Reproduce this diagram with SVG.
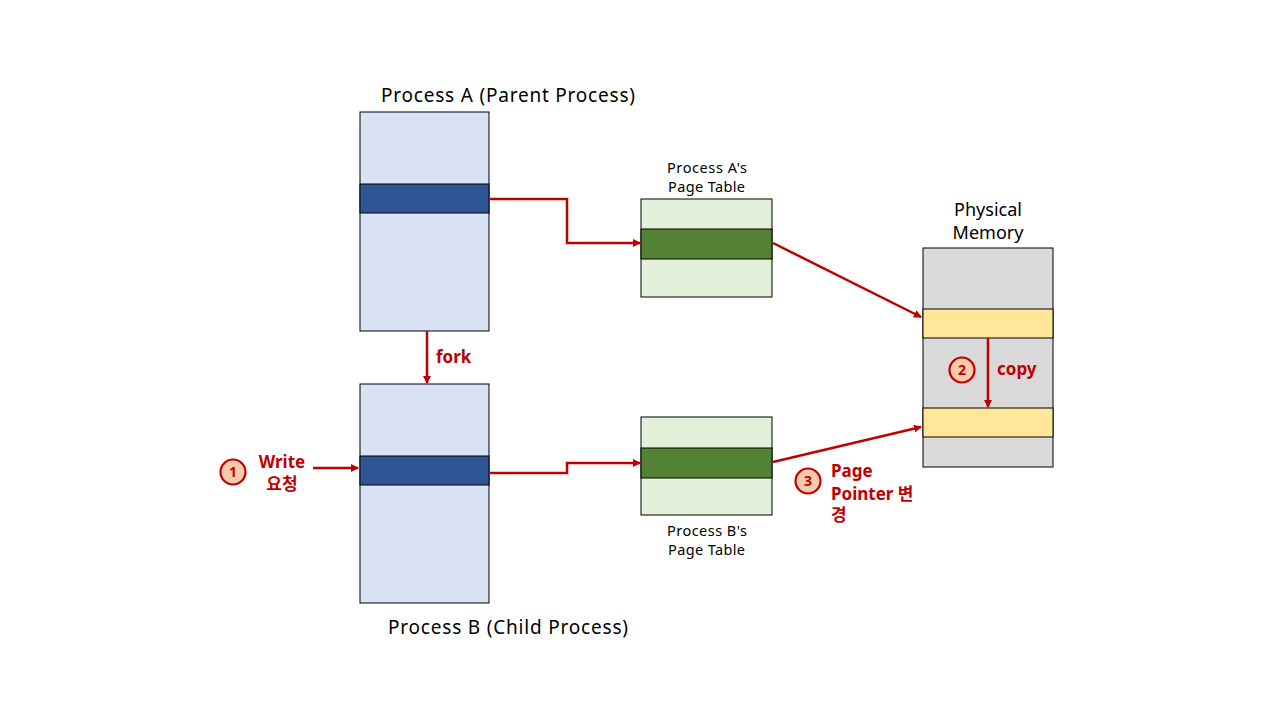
<svg xmlns="http://www.w3.org/2000/svg" width="1280" height="720" viewBox="0 0 1280 720">
<defs>
<style>
.box{stroke:#000;stroke-width:1}
.t{font-family:"Noto Sans","Noto Sans CJK KR",sans-serif;fill:#000}
.r{font-family:"Noto Sans","Noto Sans CJK KR",sans-serif;fill:#C00000;font-weight:bold;font-size:17px}
.c{fill:#F8CBAD;stroke:#C00000;stroke-width:2.2}
.cn{font-family:"Noto Sans",sans-serif;fill:#C00000;font-size:14px;font-weight:bold;text-anchor:middle}
.ar{fill:none;stroke:#C00000;stroke-width:2.5;marker-end:url(#ah)}
</style>
<marker id="ah" markerWidth="8" markerHeight="8" refX="7" refY="4" orient="auto" markerUnits="userSpaceOnUse">
<path d="M0,0 L8,4 L0,8 Z" fill="#C00000"/>
</marker>
</defs>
<rect width="1280" height="720" fill="#fff"/>
<g id="processA">
<rect class="box" x="360" y="112" width="129" height="219" fill="#DAE3F3"/>
<rect class="box" x="360" y="184" width="129" height="29" fill="#2F5597"/>
<text class="t" x="381" y="102" font-size="19" textLength="254" lengthAdjust="spacing">Process A (Parent Process)</text>
</g>
<g id="processB">
<rect class="box" x="360" y="384" width="129" height="219" fill="#DAE3F3"/>
<rect class="box" x="360" y="456" width="129" height="29" fill="#2F5597"/>
<text class="t" x="388" y="634" font-size="19" textLength="240" lengthAdjust="spacing">Process B (Child Process)</text>
</g>
<g id="pageTableA">
<rect class="box" x="641" y="199" width="131" height="98" fill="#E2F0D9"/>
<rect class="box" x="641" y="229" width="131" height="30" fill="#548235"/>
<text class="t" x="667" y="173" font-size="14.5" textLength="80" lengthAdjust="spacing">Process A's</text>
<text class="t" x="668" y="192" font-size="14.5" textLength="77" lengthAdjust="spacing">Page Table</text>
</g>
<g id="pageTableB">
<rect class="box" x="641" y="417" width="131" height="98" fill="#E2F0D9"/>
<rect class="box" x="641" y="448" width="131" height="30" fill="#548235"/>
<text class="t" x="667" y="536" font-size="14.5" textLength="80" lengthAdjust="spacing">Process B's</text>
<text class="t" x="668" y="555" font-size="14.5" textLength="77" lengthAdjust="spacing">Page Table</text>
</g>
<g id="physicalMemory">
<rect class="box" x="923" y="248" width="130" height="219" fill="#D9D9D9"/>
<rect class="box" x="923" y="309" width="130" height="29" fill="#FFE699"/>
<rect class="box" x="923" y="408" width="130" height="29" fill="#FFE699"/>
<text class="t" x="988" y="216" font-size="18" text-anchor="middle">Physical</text>
<text class="t" x="988" y="239" font-size="18" text-anchor="middle">Memory</text>
</g>
<g id="connectors">
<polyline class="ar" points="490,199 567,199 567,243 640,243"/>
<line class="ar" x1="773" y1="243" x2="921" y2="317"/>
<polyline class="ar" points="490,473 567,473 567,463 640,463"/>
<line class="ar" x1="773" y1="462" x2="921" y2="427"/>
<line class="ar" x1="427" y1="331" x2="427" y2="383"/>
<line class="ar" x1="313" y1="468" x2="358" y2="468"/>
<line class="ar" x1="988" y1="338" x2="988" y2="407"/>
</g>
<g id="label-fork"><text class="r" x="436" y="363">fork</text></g>
<g id="label-write">
<circle class="c" cx="233" cy="472" r="12.5"/>
<text class="cn" x="233" y="477">1</text>
<text class="r" x="282" y="468" text-anchor="middle">Write</text>
<text class="r" x="282" y="490" text-anchor="middle">요청</text>
</g>
<g id="label-copy">
<circle class="c" cx="962" cy="370" r="12.5"/>
<text class="cn" x="962" y="375">2</text>
<text class="r" x="997" y="375">copy</text>
</g>
<g id="label-pointer">
<circle class="c" cx="808" cy="481" r="12.5"/>
<text class="cn" x="808" y="486">3</text>
<text class="r" x="831" y="477">Page</text>
<text class="r" x="831" y="500">Pointer 변</text>
<text class="r" x="831" y="521">경</text>
</g>
</svg>
